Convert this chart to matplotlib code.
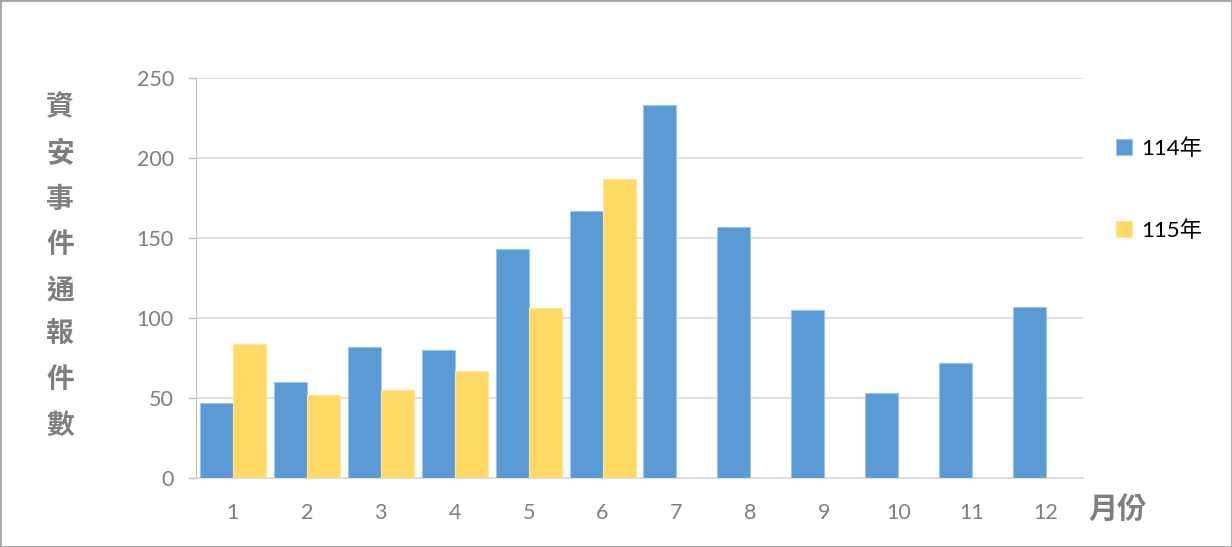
import matplotlib
matplotlib.use("Agg")
import matplotlib.pyplot as plt
import numpy as np
from matplotlib.patches import Rectangle

plt.rcParams['font.family'] = ['Lato', 'Noto Sans CJK TC', 'DejaVu Sans']

months = ['1', '2', '3', '4', '5', '6', '7', '8', '9', '10', '11', '12']
y114 = [47, 60, 82, 80, 143, 167, 233, 157, 105, 53, 72, 107]
y115 = [84, 52, 55, 67, 106, 187]

x = np.arange(len(months))
width = 0.447
blue = '#5B9BD5'
yellow = '#FFD966'
gray = '#7F7F7F'

fig = plt.figure(figsize=(12.32, 5.47), dpi=100)
ax = fig.add_axes([196 / 1232, 69 / 547, 887 / 1232, 400 / 547])

b1 = ax.bar(x - width / 2, y114, width, color=blue, edgecolor='#9DC3E6', linewidth=0.8, label='114年', zorder=3)
b2 = ax.bar(x[:len(y115)] + width / 2, y115, width, color=yellow, edgecolor='#FFE699', linewidth=0.8, label='115年', zorder=3)

ax.set_xlim(-0.5, len(months) - 0.5)
ax.set_ylim(0, 250)
ax.set_yticks(np.arange(0, 251, 50))
ax.set_xticks(x)
ax.set_xticklabels(months)
ax.grid(axis='y', color='#D9D9D9', linewidth=1.2, zorder=0)
ax.tick_params(axis='y', colors='#BFBFBF', labelcolor=gray, labelsize=15.5, length=6, width=1, pad=10)
ax.tick_params(axis='x', length=0, labelcolor=gray, labelsize=15.5, pad=18)
for s in ['top', 'right']:
    ax.spines[s].set_visible(False)
ax.spines['left'].set_color('#BFBFBF')
ax.spines['bottom'].set_color('#D9D9D9')
ax.spines['bottom'].set_linewidth(1.2)

# vertical y label
fig.text(60 / 1232, 1 - 266 / 547, '\n'.join('資安事件通報件數'), color=gray, fontsize=20,
         fontweight='bold', ha='center', va='center', linespacing=1.91)
fig.text(1118 / 1232, 1 - 509 / 547, '月份', color=gray, fontsize=21, fontweight='bold',
         ha='center', va='center')

leg = ax.legend(loc='upper left', bbox_to_anchor=(1.015, 0.90), frameon=False, fontsize=16,
                handlelength=0.7, handleheight=0.7, handletextpad=0.4, labelspacing=2.75)

fig.patches.append(Rectangle((0, 0), 1, 1, transform=fig.transFigure, fill=False,
                             edgecolor='#A6A6A6', linewidth=2))

plt.savefig('out.png', dpi=100)
